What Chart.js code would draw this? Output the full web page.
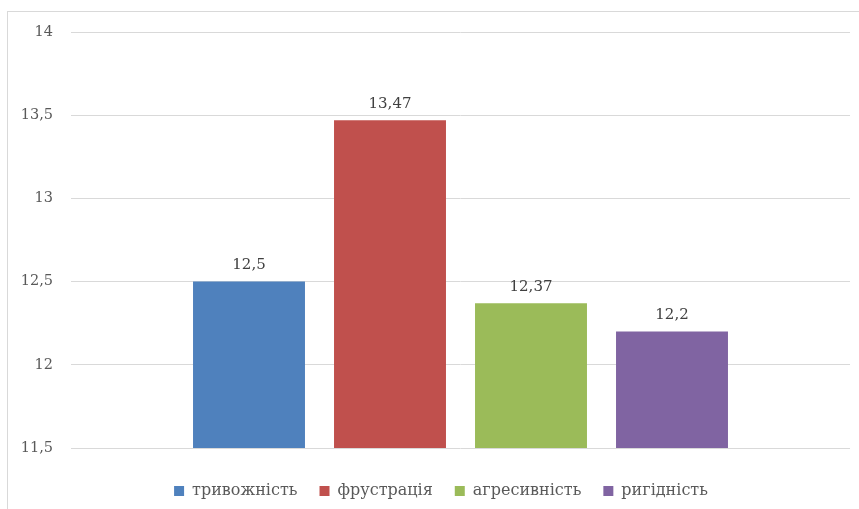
<!DOCTYPE html>
<html>
<head>
<meta charset="utf-8">
<script src="https://cdn.jsdelivr.net/npm/chart.js@4"></script>
<style>
  html, body { margin: 0; padding: 0; background: #fff; }
  #wrap { width: 859px; height: 509px; position: relative; }
</style>
</head>
<body>
<div id="wrap"><canvas id="myChart" width="859" height="509"></canvas></div>
<script>
const categories = ["тривожність", "фрустрація", "агресивність", "ригідність"];
const values = [12.5, 13.47, 12.37, 12.2];
const colors = ["#4f81bd", "#c0504d", "#9bbb59", "#8064a2"];
const yTicks = [11.5, 12, 12.5, 13, 13.5, 14];

const fontFamily = "'DejaVu Serif', serif";
const fmt = v => String(v).replace(".", ",");

// outer frame, legend nudge, value labels
const extras = {
  id: "extras",
  afterLayout(chart) {
    const lg = chart.legend;
    lg.top += 5;
    lg.bottom += 5;
    lg.left += 16;
    lg.right += 16;
  },
  beforeDraw(chart) {
    const c = chart.ctx;
    c.save();
    c.strokeStyle = "#d9d9d9";
    c.lineWidth = 1;
    c.strokeRect(7.5, 11.5, 900, 600);
    c.restore();
  },
  afterDatasetsDraw(chart) {
    const c = chart.ctx;
    c.save();
    c.font = "15px " + fontFamily;
    c.fillStyle = "#404040";
    c.textAlign = "center";
    c.textBaseline = "bottom";
    chart.data.datasets.forEach((ds, i) => {
      const bar = chart.getDatasetMeta(i).data[0];
      c.fillText(fmt(ds.data[0]), bar.x, bar.y - 9);
    });
    c.restore();
  }
};

let chartInstance = new Chart(document.getElementById("myChart"), {
  type: "bar",
  data: {
    labels: [""],
    datasets: categories.map((name, i) => ({
      label: name,
      data: [values[i]],
      backgroundColor: colors[i],
      categoryPercentage: 0.724,
      barPercentage: 0.794
    }))
  },
  options: {
    responsive: false,
    animation: false,
    layout: { padding: { left: 0, top: 32, right: 9, bottom: 5 } },
    scales: {
      x: {
        ticks: { display: false },
        grid: { display: false },
        border: { display: false }
      },
      y: {
        min: 11.5,
        max: 14,
        afterBuildTicks: axis => { axis.ticks = yTicks.map(v => ({ value: v })); },
        afterFit: axis => { axis.width = 71; },
        ticks: {
          font: { family: fontFamily, size: 14.5 },
          color: "#595959",
          padding: 18,
          callback: v => fmt(v)
        },
        grid: { color: "#d9d9d9", drawTicks: false },
        border: { display: false }
      }
    },
    plugins: {
      legend: {
        position: "bottom",
        labels: {
          boxWidth: 10,
          boxHeight: 10,
          padding: 22,
          color: "#595959",
          font: { family: fontFamily, size: 16 }
        }
      },
      tooltip: { enabled: false }
    }
  },
  plugins: [extras]
});
</script>
</body>
</html>
